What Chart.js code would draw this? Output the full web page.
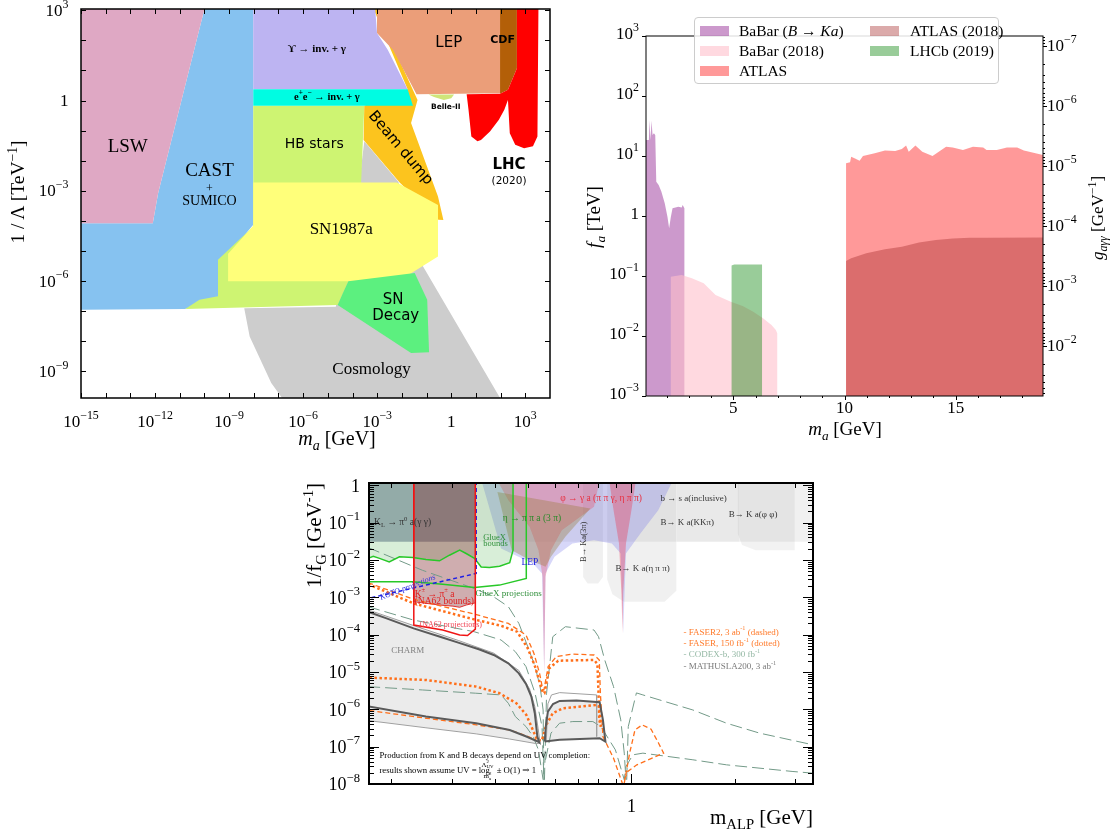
<!DOCTYPE html>
<html>
<head>
<meta charset="utf-8">
<title>ALP limits</title>
<script src="https://cdn.jsdelivr.net/npm/chart.js@4.4.1/dist/chart.umd.min.js"></script>
<style>
  body { margin: 0; width: 1111px; height: 836px; position: relative; overflow: hidden; background: #fff;
         font-family: "Liberation Serif", "DejaVu Serif", serif; color: #000; }
  canvas { position: absolute; }
  .txt { position: absolute; white-space: nowrap; line-height: 1; }
  .rot { transform-origin: 0 0; transform: rotate(-90deg); }
  sub, sup { font-size: 0.7em; line-height: 0; }
  #legendTR { position: absolute; left: 694px; top: 17px; width: 303px; height: 65px; border: 1px solid #ccc;
              border-radius: 4px; background: rgba(255,255,255,0.85); }
  .lg { position: absolute; font-size: 15.5px; line-height: 20px; white-space: nowrap; }
  .sw { position: absolute; width: 29px; height: 10px; }
</style>
</head>
<body>
<canvas id="limitsChart" width="560" height="450" style="left:0;top:0"></canvas>
<canvas id="colliderChart" width="531" height="450" style="left:580px;top:0"></canvas>
<canvas id="alpChart" width="560" height="376" style="left:280px;top:460px"></canvas>

<div class="txt" style="left:237px;top:428px;width:200px;text-align:center;font-size:20px"><i>m<sub>a</sub></i> [GeV]</div>
<div class="txt rot" style="left:8px;top:292px;width:200px;text-align:center;font-size:19.5px">1 / Λ [TeV<sup>−1</sup>]</div>

<div class="txt" style="left:745px;top:419px;width:200px;text-align:center;font-size:19px"><i>m<sub>a</sub></i> [GeV]</div>
<div class="txt rot" style="left:584px;top:317px;width:200px;text-align:center;font-size:19px"><i>f<sub>a</sub></i> [TeV]</div>
<div class="txt rot" style="left:1089px;top:318px;width:200px;text-align:center;font-size:17px"><i>g<sub>aγγ</sub></i> [GeV<sup>−1</sup>]</div>
<div id="legendTR"></div>

<div class="txt rot" style="left:304px;top:683px;width:200px;text-align:right;font-size:21px">1/f<sub>G</sub> [GeV<sup>-1</sup>]</div>
<div class="txt" style="right:298px;top:807px;font-size:21px">m<sub>ALP</sub> [GeV]</div>

<script>
const SERIF = '"Liberation Serif", "DejaVu Serif", serif';
const SANS = '"DejaVu Sans", "Liberation Sans", sans-serif';

// ---------- top left: 1/Lambda vs m_a (GeV, 1/TeV) ----------
const massTicksTL = [1e-15,1e-14,1e-13,1e-12,1e-11,1e-10,1e-9,1e-8,1e-7,1e-6,1e-5,1e-4,1e-3,1e-2,0.1,1,10,100,1000];
const massLabelsTL = [1e-15,1e-12,1e-9,1e-6,1e-3,1,1000];
const couplingTicksTL = [1e-9,1e-8,1e-7,1e-6,1e-5,1e-4,1e-3,1e-2,0.1,1,10,100,1000];
const couplingLabelsTL = [1e-9,1e-6,1e-3,1,1000];

const cosmologyRegion = [[4.1e-9,1.26e-7],[6.8e-9,1.45e-8],[5.1e-8,4.1e-10],[1.4e-7,1.3e-10],[95,1.3e-10],[0.055,4.5e-6],[7.2e-3,2.0e-3],[3.0e-4,0.044],[1.8e-4,1.4e-3],[2.1e-5,1.4e-7]];
const castRegion = [[1.0e-10,1100],[9.5e-9,1100],[9.5e-9,7.4e-5],[9.1e-10,7.4e-6],[3.55e-10,4.0e-6],[3.55e-10,2.7e-7],[1.66e-11,1.17e-7],[1e-16,1.1e-7],[1e-16,8.4e-5],[8.1e-13,8.4e-5],[1.33e-12,8.3e-4]];
const lswRegion = [[1e-16,1100],[1.0e-10,1100],[1.33e-12,8.3e-4],[8.1e-13,8.4e-5],[1e-16,8.4e-5]];
const hbRegion = [[9.5e-9,0.665],[3.0e-4,0.665],[2.2e-4,1.38e-3],[6.8e-5,9.8e-7],[2.5e-5,1.6e-7],[1.66e-11,1.17e-7],[6.3e-11,2.4e-7],[3.55e-10,3.1e-7],[3.55e-10,5.1e-6],[9.5e-9,6.5e-5]];
const beamDumpRegion = [[7.1e-4,1100],[1.15e-3,1100],[4.4e-3,62],[0.043,1.05],[0.0235,0.178],[0.29,6.5e-4],[0.48,1.08e-4],[0.3,1.1e-4],[8.1e-3,1.9e-3],[2.8e-4,0.049],[3.0e-4,0.665],[0.017,2.38]];
const sn1987aRegion = [[9.5e-9,1.9e-3],[6.2e-3,1.9e-3],[0.29,3.4e-4],[0.29,6.6e-6],[7.2e-3,9.8e-7],[9.1e-10,9.8e-7],[9.1e-10,8.1e-6],[9.5e-9,6.9e-5]];
const snDecayRegion = [[6.8e-5,9.8e-7],[0.033,1.84e-6],[0.106,2.4e-7],[0.126,4.3e-9],[0.0235,4.1e-9],[2.5e-5,1.6e-7],[4.1e-5,4.0e-7]];
const upsilonRegion = [[9.5e-9,1100],[8.3e-4,1100],[9.8e-4,174],[2.7e-3,48],[0.017,2.38],[9.5e-9,2.38]];
const eeRegion = [[9.5e-9,2.38],[0.017,2.38],[0.028,0.665],[9.5e-9,0.665]];
const lepRegionTL = [[9.8e-4,1100],[101,1100],[101,1.75],[0.039,1.63],[4.4e-3,48],[9.8e-4,174]];
const cdfRegion = [[95,1100],[457,1100],[457,11.9],[198,2.26],[95,1.67]];
const lhcRegion = [[457,1100],[3400,1100],[3100,0.064],[2040,0.03],[890,0.026],[390,0.034],[235,0.082],[198,1.05],[141,0.49],[85,0.228],[37,0.093],[16,0.049],[11.5,0.044],[6.5,0.064],[5.0,0.49],[4.2,1.63],[95,1.67],[198,2.26],[457,11.9]];
const belle2Region = [[0.12,1.6],[1.3,1.6],[1.0,1.2],[0.5,1.05],[0.2,1.3]];

const limitLabels = [
  { text: 'LSW', x: 7.8e-14, y: 0.0275, size: 19, family: SERIF },
  { text: 'CAST', x: 1.6e-10, y: 4.4e-3, size: 19, family: SERIF },
  { text: '+', x: 1.6e-10, y: 1.2e-3, size: 12, family: SERIF },
  { text: 'SUMICO', x: 1.6e-10, y: 4.4e-4, size: 14, family: SERIF },
  { text: 'ϒ → inv. + γ', x: 3.6e-6, y: 51, size: 11, family: SERIF, weight: 'bold' },
  { text: 'e^{+}e^{−} → inv. + γ', x: 9.1e-6, y: 1.26, size: 10.5, family: SERIF, weight: 'bold' },
  { text: 'HB stars', x: 2.8e-6, y: 0.036, size: 14, family: SANS },
  { text: 'Beam dump', x: 8.7e-3, y: 0.026, size: 15, family: SANS, rotate: 50 },
  { text: 'SN1987a', x: 3.5e-5, y: 5.1e-5, size: 17, family: SERIF },
  { text: 'SN', x: 4.4e-3, y: 2.4e-7, size: 15, family: SANS },
  { text: 'Decay', x: 5.6e-3, y: 6.6e-8, size: 15, family: SANS },
  { text: 'Cosmology', x: 5.9e-4, y: 1.19e-9, size: 17, family: SERIF },
  { text: 'LEP', x: 0.79, y: 80, size: 15, family: SANS },
  { text: 'CDF', x: 120, y: 99, size: 11, family: SANS, weight: 'bold' },
  { text: 'Belle-II', x: 0.6, y: 0.6, size: 7.5, family: SANS, weight: 'bold' },
  { text: 'LHC', x: 219, y: 7.2e-3, size: 15, family: SANS, weight: 'bold' },
  { text: '(2020)', x: 219, y: 2.0e-3, size: 10.5, family: SANS }
];

// ---------- top right: f_a vs m_a ----------
const massMajorTR = [5, 10, 15];
const massMinorTR = [2,3,4,6,7,8,9,11,12,13,14,16,17,18];
const faTicks = [1e-3,1e-2,0.1,1,10,100,1000];
const gTicks = [1e-7,1e-6,1e-5,1e-4,1e-3,1e-2];

const babarBKa = [[1.07,1e-3],[1.07,18.5],[1.2,18.5],[1.227,39.8],[1.273,18.5],[1.318,38.8],[1.364,22.4],[1.425,23.9],[1.486,22.4],[1.532,3.73],[1.639,3.29],[1.76,2.55],[1.913,1.63],[2.035,0.975],[2.111,0.622],[2.187,0.96],[2.264,1.34],[2.523,1.43],[2.675,1.39],[2.721,1.52],[2.797,1.34],[2.797,1e-3]];
const babar2018 = [[2.187,1e-3],[2.187,0.0975],[2.675,0.104],[3.133,0.0915],[3.666,0.0755],[4.2,0.0482],[4.886,0.0373],[5.419,0.0316],[5.877,0.0255],[6.334,0.0197],[6.715,0.0153],[6.913,0.0126],[6.974,0.0111],[6.974,1e-3]];
const lhcb2019 = [[4.92,1e-3],[4.92,0.149],[5.04,0.156],[6.29,0.156],[6.29,1e-3]];
const atlas = [[10.07,1e-3],[10.07,7.55],[10.25,7.84],[10.3,9.75],[10.45,9.14],[10.68,8.36],[10.83,10.0],[11.36,11.1],[11.82,12.3],[12.28,12.1],[12.58,13.1],[12.77,14.9],[12.89,11.8],[13.19,14.9],[13.5,11.8],[13.96,10.0],[14.57,14.3],[14.87,13.8],[15.33,12.6],[15.78,14.3],[16.24,13.8],[16.39,12.6],[16.85,12.6],[17.31,13.8],[17.77,13.8],[18.07,12.3],[18.93,10.4],[18.93,1e-3]];
const atlas2018 = [[10.07,1e-3],[10.07,0.178],[10.3,0.197],[10.98,0.24],[11.82,0.278],[12.58,0.308],[13.35,0.36],[14.11,0.4],[14.87,0.42],[15.63,0.436],[16.39,0.436],[18.93,0.44],[18.93,1e-3]];

const trSeries = [
  { name: 'BaBar (<i>B</i> → <i>Ka</i>)', data: babarBKa, color: 'rgba(128,0,128,0.4)' },
  { name: 'BaBar (2018)', data: babar2018, color: 'rgba(255,192,203,0.6)' },
  { name: 'ATLAS', data: atlas, color: 'rgba(255,0,0,0.4)' },
  { name: 'ATLAS (2018)', data: atlas2018, color: 'rgba(165,42,42,0.4)' },
  { name: 'LHCb (2019)', data: lhcb2019, color: 'rgba(0,128,0,0.4)' }
];

// ---------- bottom: 1/f_G vs m_ALP ----------
const alpMassMajor = [1];
const alpMassMinor = [0.2,0.3,0.4,0.5,0.6,0.7,0.8,0.9,2,3];
const fgTicks = [1e-8,1e-7,1e-6,1e-5,1e-4,1e-3,1e-2,0.1,1];

const bsInclusive = [[0.1,0.0305],[5,0.0305],[5,2],[0.1,2]];
const bkKKpi = [[1.356,2],[2.06,2],[2.06,0.0305],[1.356,0.0305]];
const bk3pi = [[0.723,2],[0.826,2],[0.826,3.5e-3],[0.8,2.35e-3],[0.745,2.35e-3],[0.723,3.5e-3]];
const bkEtaPiPi = [[0.85,2],[1.352,2],[1.352,1.5e-3],[1.25,7.6e-4],[0.95,7.6e-4],[0.88,1.2e-3],[0.85,3e-3]];
const bkPhiPhi = [[2.04,2],[2.99,2],[2.99,0.0183],[2.3,0.0183],[2.1,0.025],[2.04,0.05]];
const lepRegion = [[0.361,2],[1.349,2],[1.197,0.215],[1.062,0.051],[0.964,0.0149],[0.946,1.08e-4],[0.931,0.0149],[0.877,0.0275],[0.778,0.0338],[0.673,0.0275],[0.597,0.0121],[0.562,4.35e-3],[0.557,9.2e-6],[0.549,4.35e-3],[0.517,8.05e-3],[0.459,0.0134],[0.417,0.0203]];
const phiRegionA = [[0.397,2],[0.815,2],[0.778,0.264],[0.627,0.0626],[0.583,0.0183],[0.562,3.54e-3],[0.557,9.2e-6],[0.551,3.54e-3],[0.536,0.0183],[0.505,0.077],[0.438,0.397]];
const phiRegionB = [[0.856,2],[1.037,2],[1.0,0.215],[0.964,0.0275],[0.946,1.27e-3],[0.942,1.08e-4],[0.935,1.27e-3],[0.92,0.0275],[0.887,0.215]];
const etaRegion = [[0.407,0.66],[0.759,0.238],[0.642,0.0415],[0.583,0.0121],[0.562,6.55e-3],[0.505,9.9e-3],[0.448,0.0183]];
const klRegion = [[0.1,0.0305],[0.351,0.0305],[0.351,2],[0.1,2]];

const gluexBounds = [[0.171,0.011],[0.177,0.0126],[0.1846,0.011],[0.197,8.9e-3],[0.211,0.0121],[0.231,0.0117],[0.252,0.0103],[0.276,9.5e-3],[0.295,0.0134],[0.316,0.0183],[0.33,0.0149],[0.349,0.011],[0.365,6.5e-3],[0.386,6.3e-3],[0.413,6.8e-3],[0.442,8.4e-3],[0.452,0.0183],[0.452,2]];
const gluexProjection = [[0.171,2.6e-3],[0.231,2.6e-3],[0.282,2.25e-3],[0.349,1.84e-3],[0.413,2.12e-3],[0.494,3.2e-3],[0.494,2]];
const kotoProjection = [[0.353,2],[0.353,4.35e-3],[0.171,9.3e-4]];
const na62Bounds = [[0.2323,2],[0.2323,7.6e-4],[0.252,6.9e-4],[0.276,6.2e-4],[0.302,5.8e-4],[0.316,5.4e-4],[0.33,6.2e-4],[0.351,7.1e-4],[0.351,2]];
const na62Projection = [[0.2323,2],[0.2323,1.8e-4],[0.282,1.33e-4],[0.316,9.8e-5],[0.333,9.5e-5],[0.351,1.41e-4],[0.351,2]];

const charmUpper = [[0.171,4.1e-4],[0.1935,2.72e-4],[0.232,1.47e-4],[0.277,8.8e-5],[0.313,6.1e-5],[0.361,4.0e-5],[0.397,2.85e-5],[0.438,1.7e-5],[0.47,9.2e-6],[0.493,4.8e-6],[0.511,2.2e-6],[0.523,7.85e-7],[0.532,1.87e-7],[0.539,1.29e-7]];
const charmLower = [[0.171,1.2e-6],[0.252,6.4e-7],[0.353,4.25e-7],[0.442,2.8e-7],[0.494,1.87e-7],[0.534,1.37e-7],[0.539,1.29e-7]];
const charmOuterUpper = [[0.171,4.6e-4],[0.232,1.75e-4],[0.313,7.0e-5],[0.397,3.2e-5],[0.47,1.1e-5],[0.505,3.5e-6],[0.523,1.2e-6],[0.535,3.0e-7],[0.542,1.25e-7]];
const charmOuterLower = [[0.171,5.0e-7],[0.252,3.2e-7],[0.353,2.2e-7],[0.442,1.6e-7],[0.53,1.2e-7],[0.542,1.25e-7]];
const charmLobe = [[0.559,1.37e-7],[0.563,3.44e-7],[0.571,8.7e-7],[0.591,1.39e-6],[0.618,1.68e-6],[0.692,1.71e-6],[0.808,1.55e-6],[0.826,5.2e-7],[0.84,1.37e-7],[0.808,1.69e-7],[0.618,1.52e-7],[0.559,1.37e-7]];
const charmLobeOuter = [[0.565,1.4e-7],[0.571,1.4e-6],[0.585,2.43e-6],[0.618,2.8e-6],[0.791,2.43e-6],[0.792,1.87e-7]];

const faser2Upper = [[0.171,2.45e-3],[0.232,8.8e-4],[0.348,3.56e-4],[0.438,2.0e-4],[0.493,9.75e-5],[0.52,3.15e-5],[0.54,9.2e-6],[0.552,3.3e-6],[0.556,3.3e-6],[0.572,1.39e-5],[0.604,2.57e-5],[0.673,3.03e-5],[0.778,2.85e-5],[0.806,2.1e-5],[0.812,2.7e-6],[0.826,1.87e-7],[0.887,4.9e-8],[0.942,1.01e-8]];
const faser2Lower = [[0.1725,9.25e-7],[0.2526,5.77e-7],[0.3533,3.83e-7],[0.4414,2.8e-7],[0.4941,1.95e-7],[0.5284,1.52e-7]];
const faser2Right = [[0.953,1.05e-8],[0.988,6.7e-8],[1.024,2.8e-7],[1.0745,3.83e-7],[1.141,2.93e-7],[1.197,1.29e-7],[1.241,6.7e-8],[1.037,3.26e-8],[0.976,2.16e-8],[0.9486,1.17e-8]];
const faserUpper = [[0.171,2.25e-3],[0.232,6.85e-4],[0.348,2.56e-4],[0.417,1.73e-4],[0.4645,1.2e-4],[0.499,4.3e-5],[0.524,1.39e-5],[0.545,4.05e-6],[0.553,2.7e-6],[0.558,2.7e-6],[0.576,1.25e-5],[0.612,2.0e-5],[0.778,2.1e-5],[0.796,1.64e-5],[0.802,2.7e-6],[0.806,5.2e-7],[0.815,3.45e-7]];
const faserLower = [[0.1725,7.05e-6],[0.2526,6.1e-6],[0.3533,4.05e-6],[0.4126,2.7e-6],[0.4622,1.45e-6],[0.4941,7.1e-7],[0.5162,2.8e-7],[0.531,1.52e-7],[0.548,1.45e-7],[0.565,3.83e-7],[0.59,7.85e-7],[0.631,1.07e-6],[0.798,1.31e-6],[0.808,1.18e-6],[0.815,3.45e-7]];

const mathuslaA = [[0.171,0.0215],[0.246,5.3e-3],[0.348,1.73e-3],[0.397,1.03e-3],[0.438,5.6e-4],[0.47,2.0e-4],[0.499,4.75e-5],[0.524,1.39e-5],[0.542,4.05e-6],[0.553,9.6e-7],[0.556,1.3e-8]];
const mathuslaB = [[0.558,1.3e-8],[0.566,2.7e-6],[0.59,8.8e-5],[0.642,1.63e-4],[0.778,1.33e-4],[0.802,8.8e-5],[0.836,2.1e-5],[0.887,4.05e-6],[0.931,5.2e-7],[0.953,6.7e-8],[0.964,1.3e-8]];
const mathuslaC = [[0.969,1.3e-8],[0.979,3.45e-7],[1.034,2.75e-6],[1.08,2.43e-6],[1.51,9.6e-7],[1.892,4.25e-7],[2.364,2.3e-7],[3.38,1.12e-7]];
const codexA = [[0.171,4.05e-6],[0.246,3.3e-6],[0.352,2.7e-6],[0.417,2.43e-6],[0.438,1.45e-6],[0.459,6.4e-7],[0.493,3.45e-7],[0.517,1.87e-7],[0.536,8.2e-8],[0.553,1.3e-8]];
const codexB = [[0.562,4.45e-8],[0.583,2.3e-7],[0.6176,4.25e-7],[0.675,4.7e-7],[0.772,4.7e-7],[0.815,3.45e-7],[0.898,8.2e-8],[0.953,1.3e-8],[0.964,2.95e-8],[1.0097,6.04e-8],[1.08,6.7e-8],[1.51,4.45e-8],[1.892,3.26e-8],[2.955,2.16e-8],[3.38,1.95e-8]];
const codexC = [[0.171,5.6e-4],[0.232,2.45e-4],[0.348,1.2e-4],[0.417,7.2e-5],[0.459,3.5e-5],[0.493,1.39e-5],[0.524,2.7e-6],[0.549,3.45e-7],[0.556,1.3e-8]];

const alpLabels = [
  { text: 'K_{L} → π^{0} a(γ γ)', x: 0.178, y: 0.1, color: '#333', align: 'left', size: 9.5 },
  { text: 'η → π π a (3 π)', x: 0.422, y: 0.129, color: '#2a8a2a', align: 'left', size: 9.5 },
  { text: 'GlueX', x: 0.37, y: 0.04, color: '#2f8f3a', align: 'left', size: 8.5 },
  { text: 'bounds', x: 0.37, y: 0.0276, color: '#2f8f3a', align: 'left', size: 8.5 },
  { text: 'LEP', x: 0.478, y: 8.36e-3, color: '#2020e0', align: 'left', size: 9.5 },
  { text: 'KOTO projections', x: 0.223, y: 1.84e-3, color: '#3030e0', rotate: -21, weight: 'italic', size: 8 },
  { text: 'K^{±} → π^{±} a', x: 0.2336, y: 1.22e-3, color: '#e02020', align: 'left', size: 9.5 },
  { text: '(NA62 bounds)', x: 0.2336, y: 7.6e-4, color: '#e02020', align: 'left', size: 9.5 },
  { text: 'GlueX projections', x: 0.3516, y: 1.27e-3, color: '#2f8f3a', align: 'left', size: 9 },
  { text: '(NA62 projections)', x: 0.2415, y: 1.77e-4, color: '#f04050', align: 'left', size: 8 },
  { text: 'CHARM', x: 0.1997, y: 3.64e-5, color: '#808080', align: 'left', size: 9 },
  { text: 'φ → γ a (π π γ, η π π)', x: 0.62, y: 0.44, color: '#e83040', align: 'left', size: 9.5 },
  { text: 'b → s a(inclusive)', x: 1.215, y: 0.44, color: '#333', align: 'left', size: 9 },
  { text: 'B→ K a(KKπ)', x: 1.215, y: 0.1, color: '#333', align: 'left', size: 9 },
  { text: 'B→ K a(φ φ)', x: 1.922, y: 0.168, color: '#333', align: 'left', size: 9 },
  { text: 'B→ K a(η π π)', x: 0.898, y: 5.93e-3, color: '#333', align: 'left', size: 9 },
  { text: 'B→ Ka(3π)', x: 0.727, y: 0.0305, color: '#333', rotate: -90, size: 8.5 },
  { text: 'Production from K and B decays depend on UV completion:', x: 0.1845, y: 5.78e-8, align: 'left', size: 8.7 },
  { text: 'results shown assume UV = log', x: 0.1845, y: 2.3e-8, align: 'left', size: 8.7 },
  { text: 'Λ^{2}_{UV}', x: 0.381, y: 3.26e-8, size: 7 },
  { text: 'm^{2}_{a}', x: 0.381, y: 1.61e-8, size: 7 },
  { text: '± O(1) ⇒ 1', x: 0.405, y: 2.3e-8, align: 'left', size: 8.7 },
  { text: '- FASER2, 3 ab^{-1} (dashed)', x: 1.417, y: 1.15e-4, color: '#ff7a2a', align: 'left', size: 9 },
  { text: '- FASER, 150 fb^{-1} (dotted)', x: 1.417, y: 5.6e-5, color: '#ff7a2a', align: 'left', size: 9 },
  { text: '- CODEX-b, 300 fb^{-1}', x: 1.417, y: 2.85e-5, color: '#94b8a4', align: 'left', size: 9 },
  { text: '- MATHUSLA200, 3 ab^{-1}', x: 1.417, y: 1.36e-5, color: '#7a7a7a', align: 'left', size: 9 }
];

// ---------- drawing helpers ----------
function richText(ctx, str, x, y, size, family, align, weight) {
  const parts = [];
  const re = /([_^])\{([^}]*)\}/g;
  let last = 0, m;
  while ((m = re.exec(str)) !== null) {
    if (m.index > last) parts.push({ t: str.slice(last, m.index), k: '' });
    parts.push({ t: m[2], k: m[1] });
    last = re.lastIndex;
  }
  if (last < str.length) parts.push({ t: str.slice(last), k: '' });
  const font = k => ((weight || '') + ' ' + (k ? size * 0.7 : size) + 'px ' + family).trim();
  parts.forEach(p => { ctx.font = font(p.k); p.w = ctx.measureText(p.t).width; });
  let total = 0;
  for (let i = 0; i < parts.length; i++) {
    const p = parts[i], n = parts[i + 1];
    if (p.k === '^' && n && n.k === '_') { p.adv = 0; n.adv = Math.max(p.w, n.w); }
    else if (p.adv === undefined) p.adv = p.w;
    total += p.adv;
  }
  let cx = align === 'center' ? x - total / 2 : align === 'right' ? x - total : x;
  ctx.textAlign = 'left';
  ctx.textBaseline = 'middle';
  for (const p of parts) {
    ctx.font = font(p.k);
    const dy = p.k === '^' ? -size * 0.4 : p.k === '_' ? size * 0.28 : 0;
    ctx.fillText(p.t, cx, y + dy);
    cx += p.adv;
  }
}

function powText(v) {
  const e = Math.round(Math.log10(v));
  if (e === 0) return '1';
  return '10^{' + (e < 0 ? '−' + (-e) : e) + '}';
}

const deco = {
  id: 'deco',
  afterDatasetsDraw(chart, args, opts) {
    const ctx = chart.ctx;
    ctx.save();
    for (const t of opts.texts || []) {
      const px = chart.scales.x.getPixelForValue(t.x);
      const py = chart.scales.y.getPixelForValue(t.y);
      ctx.save();
      ctx.translate(px, py);
      if (t.rotate) ctx.rotate(t.rotate * Math.PI / 180);
      ctx.fillStyle = t.color || '#000';
      richText(ctx, t.text, 0, 0, t.size, t.family || opts.family, t.align || 'center', t.weight);
      ctx.restore();
    }
    ctx.restore();
  },
  afterDraw(chart, args, opts) {
    const ctx = chart.ctx, a = chart.chartArea;
    ctx.save();
    ctx.strokeStyle = '#000';
    for (const tk of opts.ticks || []) {
      const s = chart.scales[tk.axis];
      const sign = tk.out ? 1 : -1;
      ctx.lineWidth = tk.width || 1;
      for (const v of tk.values) {
        const raw = s.getPixelForValue(v);
        const horiz = tk.side === 'bottom' || tk.side === 'top';
        if (horiz ? (raw < a.left - 0.5 || raw > a.right + 0.5) : (raw < a.top - 0.5 || raw > a.bottom + 0.5)) continue;
        const p = Math.round(raw) + 0.5;
        ctx.beginPath();
        if (tk.side === 'bottom') { ctx.moveTo(p, a.bottom); ctx.lineTo(p, a.bottom + sign * tk.len); }
        else if (tk.side === 'top') { ctx.moveTo(p, a.top); ctx.lineTo(p, a.top - sign * tk.len); }
        else if (tk.side === 'left') { ctx.moveTo(a.left, p); ctx.lineTo(a.left - sign * tk.len, p); }
        else { ctx.moveTo(a.right, p); ctx.lineTo(a.right + sign * tk.len, p); }
        ctx.stroke();
      }
    }
    ctx.fillStyle = '#000';
    for (const lb of opts.labels || []) {
      const s = chart.scales[lb.axis];
      for (const v of lb.values) {
        const p = s.getPixelForValue(v);
        const txt = lb.plain ? String(v) : powText(v);
        if (lb.side === 'bottom') richText(ctx, txt, p, a.bottom + lb.offset, lb.size, opts.family, 'center');
        else if (lb.side === 'left') richText(ctx, txt, a.left - lb.offset, p + (lb.dy || 0), lb.size, opts.family, 'right');
        else richText(ctx, txt, a.right + lb.offset, p + (lb.dy || 0), lb.size, opts.family, 'left');
      }
    }
    ctx.lineWidth = opts.frame;
    ctx.strokeRect(a.left, a.top, a.right - a.left, a.bottom - a.top);
    ctx.restore();
  }
};

function region(points, color) {
  return { data: points.map(p => ({ x: p[0], y: p[1] })), fill: 'shape', backgroundColor: color,
           borderColor: 'rgba(0,0,0,0)', borderWidth: 0, pointRadius: 0, tension: 0 };
}
function curve(points, color, width, dash, fillColor) {
  return { data: points.map(p => ({ x: p[0], y: p[1] })), fill: fillColor ? 'shape' : false,
           backgroundColor: fillColor || color, borderColor: color, borderWidth: width,
           borderDash: dash || [], borderCapStyle: 'butt', pointRadius: 0, tension: 0 };
}
// first entry is the bottom layer
function layered(list) { return list.map((d, i) => Object.assign(d, { order: list.length - i })); }
function axis(type, min, max, fit, extra) {
  return Object.assign({ type, min, max, grid: { display: false }, border: { display: false },
                         ticks: { display: false }, afterFit: fit }, extra || {});
}
function minorDecades(lo, hi) {
  const out = [];
  for (let e = lo; e < hi; e++) for (let k = 2; k < 10; k++) out.push(k * Math.pow(10, e));
  return out;
}
const baseOptions = { responsive: false, animation: false, events: [] };

// ---------- chart 1 ----------
new Chart(document.getElementById('limitsChart'), {
  type: 'line',
  data: { datasets: layered([
    region(cosmologyRegion, '#cdcdcd'),
    region(castRegion, '#86c2f0'),
    region(lswRegion, '#dfa8c4'),
    region(hbRegion, '#cef472'),
    region(beamDumpRegion, '#fcc41e'),
    region(sn1987aRegion, '#ffff7a'),
    region(snDecayRegion, '#5cf07f'),
    region(upsilonRegion, '#bdb4f2'),
    region(eeRegion, '#00fce2'),
    region(lepRegionTL, '#eb9e79'),
    region(cdfRegion, '#b35f08'),
    region(lhcRegion, '#ff0000'),
    region(belle2Region, '#cfe57a')
  ]) },
  options: Object.assign({}, baseOptions, {
    layout: { padding: { top: 9, right: 10, left: 0, bottom: 0 } },
    scales: {
      x: axis('logarithmic', 1e-15, 1e4, s => { s.height = 52; }),
      y: axis('logarithmic', 1.3e-10, 1100, s => { s.width = 81; })
    },
    plugins: {
      legend: { display: false }, tooltip: { enabled: false },
      deco: {
        family: SERIF, frame: 1.5, texts: limitLabels,
        ticks: [
          { axis: 'x', side: 'bottom', values: massTicksTL, len: 5 },
          { axis: 'x', side: 'top', values: massTicksTL, len: 5 },
          { axis: 'y', side: 'left', values: couplingTicksTL, len: 5 },
          { axis: 'y', side: 'right', values: couplingTicksTL, len: 5 }
        ],
        labels: [
          { axis: 'x', side: 'bottom', values: massLabelsTL, offset: 25, size: 17 },
          { axis: 'y', side: 'left', values: couplingLabelsTL, offset: 12.5, dy: 1, size: 17 }
        ]
      }
    }
  }),
  plugins: [deco]
});

// ---------- chart 2 ----------
new Chart(document.getElementById('colliderChart'), {
  type: 'line',
  data: { datasets: layered(trSeries.map(s => Object.assign(region(s.data, s.color), { label: s.name }))) },
  options: Object.assign({}, baseOptions, {
    layout: { padding: { top: 36, right: 0, left: 0, bottom: 0 } },
    scales: {
      x: axis('linear', 1.07, 18.93, s => { s.height = 54; }),
      y: axis('logarithmic', 1e-3, 1e3, s => { s.width = 66; }),
      yR: axis('logarithmic', 6.76e-8, 0.0676, s => { s.width = 68; }, { position: 'right', reverse: true })
    },
    plugins: {
      legend: { display: false }, tooltip: { enabled: false },
      deco: {
        family: SERIF, frame: 1,
        ticks: [
          { axis: 'x', side: 'bottom', values: massMajorTR, len: 4, out: true },
          { axis: 'x', side: 'bottom', values: massMinorTR, len: 2, out: true },
          { axis: 'y', side: 'left', values: faTicks, len: 4, out: true },
          { axis: 'yR', side: 'right', values: gTicks, len: 4, out: true },
          { axis: 'yR', side: 'right', values: minorDecades(-8, -1), len: 2, out: true }
        ],
        labels: [
          { axis: 'x', side: 'bottom', values: massMajorTR, offset: 13, size: 17, plain: true },
          { axis: 'y', side: 'left', values: faTicks, offset: 7, dy: -1, size: 17 },
          { axis: 'yR', side: 'right', values: gTicks, offset: 4, dy: 0, size: 17 }
        ]
      }
    }
  }),
  plugins: [deco]
});

const legendBox = document.getElementById('legendTR');
trSeries.forEach((s, i) => {
  const col = i < 3 ? 0 : 1, row = i < 3 ? i : i - 3;
  const cy = 13 + row * 20;
  const sw = document.createElement('div');
  sw.className = 'sw';
  sw.style.left = (col ? 175 : 5) + 'px';
  sw.style.top = (cy - 5) + 'px';
  sw.style.background = s.color;
  const tx = document.createElement('div');
  tx.className = 'lg';
  tx.style.left = (col ? 215 : 44) + 'px';
  tx.style.top = (cy - 10) + 'px';
  tx.innerHTML = s.name;
  legendBox.append(sw, tx);
});

// ---------- chart 3 ----------
const orange = '#ff6f1a';
const dashGreen = '#739a88';
new Chart(document.getElementById('alpChart'), {
  type: 'line',
  data: { datasets: layered([
    region(bsInclusive, 'rgba(0,0,0,0.06)'),
    region(bkKKpi, 'rgba(0,0,0,0.03)'),
    region(bk3pi, 'rgba(0,0,0,0.06)'),
    region(bkEtaPiPi, 'rgba(0,0,0,0.06)'),
    region(bkPhiPhi, 'rgba(0,0,0,0.05)'),
    region(lepRegion, 'rgba(100,100,230,0.26)'),
    region(phiRegionA, 'rgba(235,60,90,0.3)'),
    region(phiRegionB, 'rgba(235,60,90,0.38)'),
    region(etaRegion, 'rgba(150,120,50,0.35)'),
    curve(gluexBounds.concat([[0.1, 2]]), 'rgba(0,0,0,0)', 0, [], 'rgba(60,170,60,0.2)'),
    region(klRegion, 'rgba(70,95,120,0.42)'),
    curve(na62Bounds, '#e03030', 1, [], 'rgba(130,40,45,0.38)'),
    region(charmOuterUpper.concat(charmOuterLower.slice().reverse()), 'rgba(0,0,0,0.08)'),
    region(charmLobe, 'rgba(0,0,0,0.08)'),
    curve(mathuslaA, dashGreen, 1, [12, 5]),
    curve(mathuslaB, dashGreen, 1, [12, 5]),
    curve(mathuslaC, dashGreen, 1, [12, 5]),
    curve(codexA, dashGreen, 1, [12, 5]),
    curve(codexB, dashGreen, 1, [12, 5]),
    curve(codexC, dashGreen, 1, [12, 5]),
    curve(faser2Upper, orange, 1.3, [5, 3]),
    curve(faser2Lower, orange, 1.3, [5, 3]),
    curve(faser2Right, orange, 1.3, [5, 3]),
    curve(faserUpper, orange, 2.5, [2.5, 2.5]),
    curve(faserLower, orange, 2.5, [2.5, 2.5]),
    curve(charmOuterUpper, '#a0a0a0', 1),
    curve(charmOuterLower, '#a0a0a0', 1),
    curve(charmLobeOuter, '#a0a0a0', 1),
    curve(charmUpper.concat(charmLower.slice().reverse()), '#5a5a5a', 2),
    curve(charmLobe, '#5a5a5a', 2),
    curve(gluexBounds, '#28c828', 1.5),
    curve(gluexProjection, '#28c828', 1.5),
    curve(kotoProjection, '#1e1ee6', 1.5, [4, 3]),
    curve(na62Projection, '#f01414', 1.5)
  ]) },
  options: Object.assign({}, baseOptions, {
    layout: { padding: { top: 23, right: 27, left: 0, bottom: 0 } },
    scales: {
      x: axis('logarithmic', 0.172, 3.38, s => { s.height = 52; }),
      y: axis('logarithmic', 1e-8, 1.15, s => { s.width = 89; })
    },
    plugins: {
      legend: { display: false }, tooltip: { enabled: false },
      deco: {
        family: SERIF, frame: 2, texts: alpLabels,
        ticks: [
          { axis: 'x', side: 'bottom', values: alpMassMajor, len: 10 },
          { axis: 'x', side: 'bottom', values: alpMassMinor, len: 5 },
          { axis: 'x', side: 'top', values: alpMassMajor, len: 10 },
          { axis: 'x', side: 'top', values: alpMassMinor, len: 5 },
          { axis: 'y', side: 'left', values: fgTicks, len: 10 },
          { axis: 'y', side: 'left', values: minorDecades(-8, 0), len: 5 },
          { axis: 'y', side: 'right', values: fgTicks, len: 10 },
          { axis: 'y', side: 'right', values: minorDecades(-8, 0), len: 5 }
        ],
        labels: [
          { axis: 'x', side: 'bottom', values: alpMassMajor, offset: 23.5, size: 18, plain: true },
          { axis: 'y', side: 'left', values: fgTicks, offset: 9, dy: 1.5, size: 18 }
        ]
      }
    }
  }),
  plugins: [deco]
});
</script>
</body>
</html>
